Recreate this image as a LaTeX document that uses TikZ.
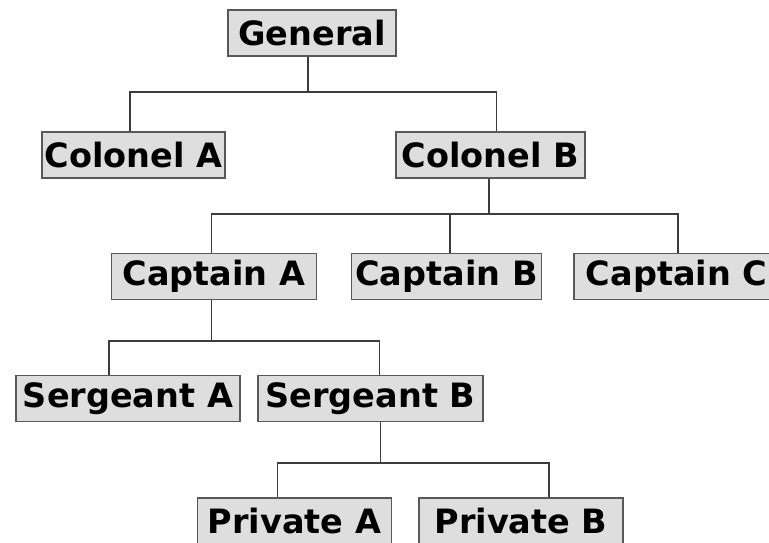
\documentclass[tikz,border=0pt]{standalone}
\usepackage{fontspec}
\setmainfont{DejaVu Sans}
\definecolor{boxfill}{HTML}{DEDEDE}
\definecolor{boxline}{HTML}{585858}
\definecolor{wire}{HTML}{3C3C3C}
\tikzset{
  rank/.style={draw=boxline, fill=boxfill, line width=1.4pt, inner sep=0pt,
    minimum height=46pt, font=\fontsize{33.5}{40}\selectfont\bfseries},
  link/.style={draw=wire, line width=1.8pt}
}
\begin{document}
\begin{tikzpicture}[x=1pt,y=-1pt]
      \useasboundingbox (0,0) rectangle (769,543);
      \clip (0,0) rectangle (769,543);
      \node [rank, minimum width=168pt] (general) at (312,33) {General};
      \node [rank, minimum width=183pt] (colA) at (133.5,155) {Colonel A};
      \node [rank, minimum width=189pt] (colB) at (490.5,155) {Colonel B};
      \node [rank, minimum width=205pt] (capA) at (214,276.5) {Captain A};
      \node [rank, minimum width=190pt] (capB) at (446.5,276.5) {Captain B};
      \node [rank, minimum width=205pt] (capC) at (676.5,276.5) {Captain C};
      \node [rank, minimum width=224pt] (sgtA) at (128,398.5) {Sergeant A};
      \node [rank, minimum width=225pt] (sgtB) at (370.5,398.5) {Sergeant B};
      \node [rank, minimum width=194pt] (pvtA) at (294.5,521) {Private A};
      \node [rank, minimum width=204pt] (pvtB) at (521,521) {Private B};

      \draw[link] ([xshift=-4pt]general.south) -- ++(0,35.5) -| ([xshift=-3.5pt]colA.north);
      \draw[link] ([xshift=-4pt]general.south) -- ++(0,35.5) -| ([xshift=6pt]colB.north);
      \draw[link] ([xshift=-1.5pt]colB.south) -- ++(0,35) -| ([xshift=-2.5pt]capA.north);
      \draw[link] ([xshift=-1.5pt]colB.south) -- ++(0,35) -| ([xshift=3.5pt]capB.north);
      \draw[link] ([xshift=-1.5pt]colB.south) -- ++(0,35) -| ([xshift=1.5pt]capC.north);
      \draw[link] ([xshift=-2.5pt]capA.south) -- ++(0,40.5) -| ([xshift=-19pt]sgtA.north);
      \draw[link] ([xshift=-2.5pt]capA.south) -- ++(0,40.5) -| ([xshift=9pt]sgtB.north);
      \draw[link] ([xshift=10pt]sgtB.south) -- ++(0,41) -| ([xshift=-17pt]pvtA.north);
      \draw[link] ([xshift=10pt]sgtB.south) -- ++(0,41) -| ([xshift=28pt]pvtB.north);
    \end{tikzpicture}
\end{document}
